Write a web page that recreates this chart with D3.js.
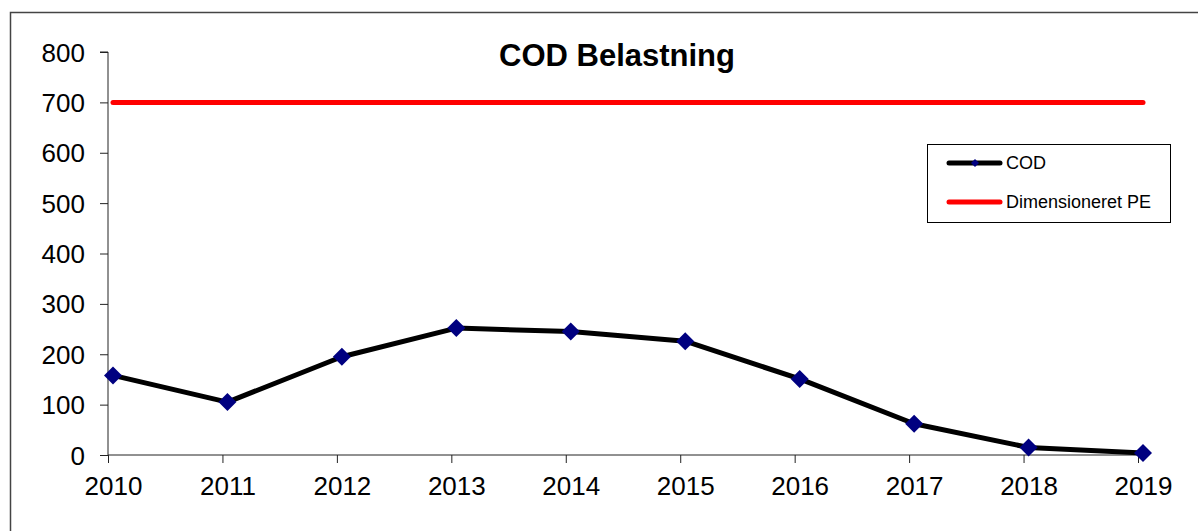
<!DOCTYPE html>
<html><head><meta charset="utf-8">
<script src="https://cdn.jsdelivr.net/npm/d3@7"></script>
<style>
html,body{margin:0;padding:0;background:#fff;}
svg{display:block;font-family:Arial,"Liberation Sans",sans-serif;}
</style></head>
<body>
<script>
const years = [2010,2011,2012,2013,2014,2015,2016,2017,2018,2019];
const cod = [158,105,195,252,245,226,151,62,15,4];
const dimensioneretPE = [700,700,700,700,700,700,700,700,700,700];
const yTicks = [0,100,200,300,400,500,600,700,800];
const title = "COD Belastning";
const seriesNames = ["COD","Dimensioneret PE"];

const W = 1198, H = 531;
const svg = d3.select("body").append("svg").attr("width",W).attr("height",H);

svg.append("rect").attr("x",10.5).attr("y",12.5).attr("width",1300).attr("height",700)
  .attr("fill","none").attr("stroke","#444").attr("stroke-width",1.5);

const x = d3.scalePoint().domain(years).range([113,1143]);
const y = d3.scaleLinear().domain([0,800]).range([455,52]);
const tickShift = -5;
const FONT = "Arial,'Liberation Sans',sans-serif";

// y axis
const yAxis = svg.append("g").attr("transform",`translate(108,0)`)
  .call(d3.axisLeft(y).tickValues(yTicks).tickSize(8).tickPadding(15).tickFormat(d3.format("d")));
yAxis.selectAll("path,line").attr("stroke","#222");
yAxis.selectAll("text").attr("font-size",26).attr("fill","#000").attr("font-family",FONT).attr("dy","0.35em");
yAxis.select(".domain").attr("d",`M-8,${y(800)}H0V${y(0)}`);

// x axis
const xAxis = svg.append("g").attr("transform",`translate(0,455)`)
  .call(d3.axisBottom(x).tickSize(8).tickPadding(14));
xAxis.selectAll("path,line").attr("stroke","#222");
xAxis.selectAll(".tick line").attr("transform",`translate(${tickShift},0)`);
xAxis.select(".domain").attr("d",`M${x(2010)+tickShift},0H${x(2019)+tickShift}`);
xAxis.selectAll("text").attr("font-size",26).attr("fill","#000").attr("font-family",FONT);

// red line
const line = d3.line().x((d,i)=>x(years[i])).y(d=>y(d));
svg.append("path").datum(dimensioneretPE).attr("d",line).attr("fill","none")
  .attr("stroke","#ff0000").attr("stroke-width",5).attr("stroke-linecap","round");

// COD line
svg.append("path").datum(cod).attr("d",line).attr("fill","none")
  .attr("stroke","#000").attr("stroke-width",5).attr("stroke-linejoin","round");

svg.selectAll(".pt").data(cod).join("path").attr("class","pt")
  .attr("d","M0,-9L9,0L0,9L-9,0Z")
  .attr("transform",(d,i)=>`translate(${x(years[i])},${y(d)})`)
  .attr("fill","#000080");

// title
svg.append("text").attr("x",617).attr("y",66).attr("text-anchor","middle")
  .attr("font-size",31).attr("font-weight","bold").attr("fill","#000").text(title);

// legend
const lg = svg.append("g");
lg.append("rect").attr("x",927.5).attr("y",144.5).attr("width",243).attr("height",78)
  .attr("fill","#fff").attr("stroke","#000").attr("stroke-width",1);
const legendY = [163,202];
const legendColors = ["#000","#ff0000"];
seriesNames.forEach((n,i)=>{
  lg.append("line").attr("x1",949).attr("x2",1000).attr("y1",legendY[i]).attr("y2",legendY[i])
    .attr("stroke",legendColors[i]).attr("stroke-width",5).attr("stroke-linecap","round");
  if(i===0){
    lg.append("path").attr("d","M0,-4L4,0L0,4L-4,0Z").attr("transform",`translate(975,${legendY[i]})`).attr("fill","#000080");
  }
  lg.append("text").attr("x",1006).attr("y",legendY[i]).attr("dy","0.36em")
    .attr("font-size",18).attr("fill","#000").text(n);
});
</script>
</body></html>
